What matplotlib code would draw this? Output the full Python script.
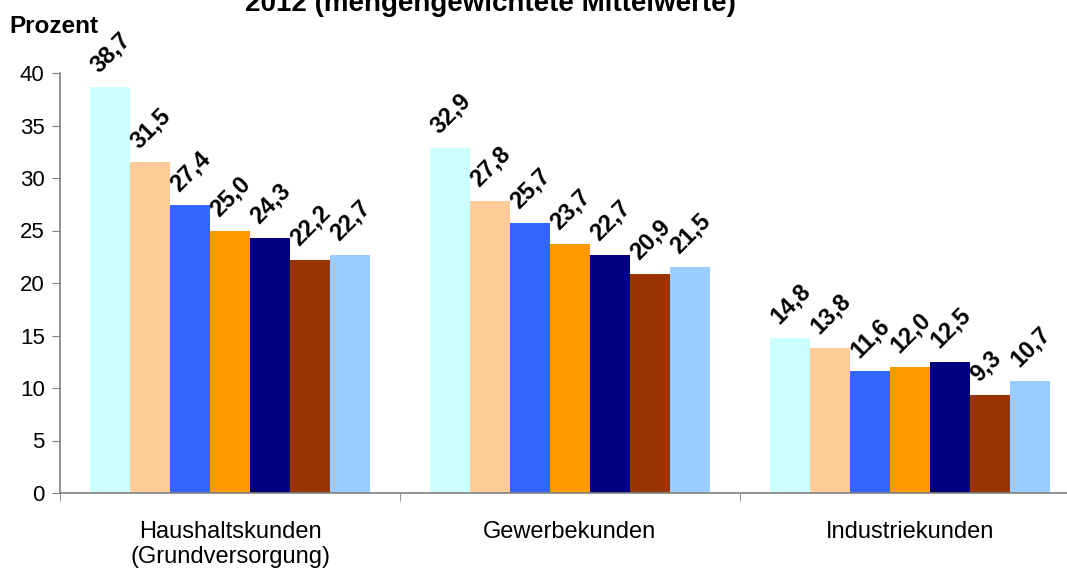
import matplotlib
matplotlib.use("Agg")
import matplotlib.pyplot as plt
import numpy as np

plt.rcParams['font.family'] = ['Liberation Sans', 'DejaVu Sans']

# categories and series (one value per category)
categories = ['Haushaltskunden\n(Grundversorgung)', 'Gewerbekunden', 'Industriekunden']
series_1 = [38.7, 32.9, 14.8]
series_2 = [31.5, 27.8, 13.8]
series_3 = [27.4, 25.7, 11.6]
series_4 = [25.0, 23.7, 12.0]
series_5 = [24.3, 22.7, 12.5]
series_6 = [22.2, 20.9, 9.3]
series_7 = [22.7, 21.5, 10.7]
all_series = [series_1, series_2, series_3, series_4, series_5, series_6, series_7]
colors = ['#CCFFFF', '#FFCC99', '#3366FF', '#FF9900', '#000080', '#993300', '#99CCFF']
y_ticks = [0, 5, 10, 15, 20, 25, 30, 35, 40]

fig = plt.figure(figsize=(10.67, 5.7), dpi=100)
ax = fig.add_axes([60/1067, 1 - 493/570, 1020/1067, 420/570])

bar_w = 40/340
x = np.arange(len(categories))
start = -0.5 + 30/340

for i, (vals, col) in enumerate(zip(all_series, colors)):
    left = x + start + i*bar_w
    ax.bar(left, vals, width=bar_w, align='edge', color=col, linewidth=0)
    for xl, v in zip(left, vals):
        ax.text(xl + 0.026, v + 1.25, f'{v:.1f}'.replace('.', ','), rotation=45,
                rotation_mode='anchor', ha='left', va='baseline',
                fontsize=17, fontweight='bold')

ax.set_xlim(-0.5, 2.5)
ax.set_ylim(0, 40)
ax.set_yticks(y_ticks)
ax.set_yticklabels([str(t) for t in y_ticks], fontsize=16)
ax.set_xticks(x)
ax.set_xticklabels(categories, fontsize=17, linespacing=1.2)
ax.set_xticks([-0.5, 0.5, 1.5, 2.5], minor=True)
ax.tick_params(axis='x', which='major', length=0, pad=20)
ax.tick_params(axis='x', which='minor', length=6, color='#808080')
ax.tick_params(axis='y', length=6, color='#808080', pad=5)

for s in ['top', 'right']:
    ax.spines[s].set_visible(False)
for s in ['left', 'bottom']:
    ax.spines[s].set_color('#808080')
    ax.spines[s].set_linewidth(1.2)

fig.text(9/1067, 1 - 33/570, 'Prozent', fontsize=17.5, fontweight='bold')
fig.text(490/1067, 1 - 11/570, '2012 (mengengewichtete Mittelwerte)',
         fontsize=20, fontweight='bold', ha='center', va='baseline')

fig.savefig('out.png', dpi=100)
